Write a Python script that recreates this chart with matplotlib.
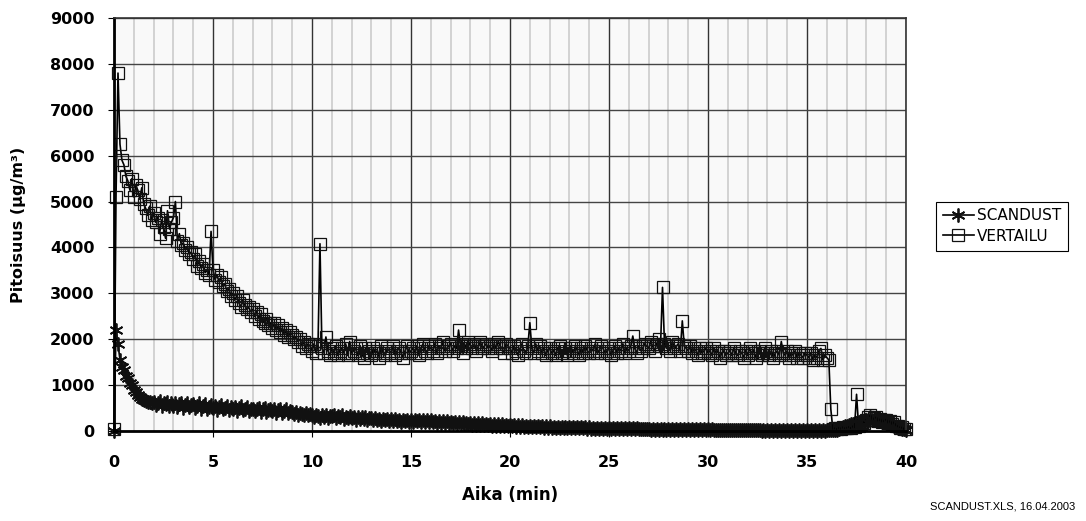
"""
Pitoisuus vs. aika: SCANDUST ja VERTAILU (Excel-tyylinen kuva).
"""
import numpy as np
import matplotlib
matplotlib.use('Agg')
import matplotlib.pyplot as plt
from matplotlib.ticker import MultipleLocator

plt.rcParams['font.family'] = ['Liberation Sans', 'DejaVu Sans']

# samples every 0.1 min, one row = one minute
step_min = 0.1

vertailu = [
    50, 5100, 7800, 6250, 5900, 5800, 5550, 5450, 5250, 5500,
    5100, 5350, 5250, 5050, 5300, 4950, 4850, 4700, 4900, 4600,
    4750, 4550, 4650, 4300, 4600, 4450, 4200, 4800, 4400, 4550,
    4650, 5000, 4150, 4300, 4050, 4100, 3950, 4000, 3850, 3900,
    3750, 3850, 3600, 3700, 3550, 3650, 3450, 3500, 3400, 4350,
    3500, 3300, 3400, 3250, 3350, 3150, 3200, 3050, 3100, 2950,
    3000, 2850, 2950, 2800, 2700, 2850, 2750, 2650, 2700, 2600,
    2650, 2500, 2600, 2450, 2550, 2400, 2350, 2450, 2300, 2350,
    2250, 2350, 2200, 2300, 2150, 2250, 2100, 2200, 2050, 2150,
    2100, 2000, 2050, 1950, 2000, 1850, 1950, 1800, 1900, 1850,
    1750, 1900, 1700, 1850, 4080, 1800, 1700, 2050, 1750, 1650,
    1800, 1700, 1850, 1650, 1750, 1800, 1700, 1900, 1650, 1950,
    1700, 1750, 1800, 1650, 1850, 1700, 1600, 1800, 1700, 1750,
    1650, 1800, 1700, 1750, 1600, 1850, 1700, 1650, 1800, 1750,
    1700, 1850, 1650, 1750, 1800, 1700, 1600, 1750, 1850, 1700,
    1750, 1800, 1700, 1850, 1650, 1800, 1900, 1750, 1700, 1850,
    1800, 1750, 1900, 1700, 1850, 1800, 1950, 1750, 1800, 1850,
    1900, 1750, 1850, 1800, 2200, 1850, 1700, 1900, 1800, 1950,
    1850, 1800, 1900, 1750, 1850, 1950, 1800, 1850, 1900, 1800,
    1850, 1750, 1900, 1800, 1950, 1850, 1800, 1700, 1900, 1850,
    1800, 1700, 1850, 1750, 1650, 1800, 1900, 1750, 1700, 1850,
    2360, 1800, 1700, 1900, 1750, 1850, 1700, 1800, 1650, 1750,
    1800, 1700, 1750, 1650, 1800, 1850, 1700, 1750, 1800, 1650,
    1750, 1800, 1700, 1850, 1750, 1650, 1800, 1700, 1850, 1750,
    1700, 1800, 1750, 1900, 1700, 1750, 1850, 1800, 1700, 1750,
    1800, 1650, 1750, 1850, 1700, 1800, 1750, 1900, 1700, 1800,
    1750, 1850, 2070, 1800, 1700, 1850, 1750, 1800, 1900, 1850,
    1800, 1950, 1850, 1750, 1900, 2000, 1850, 3130, 1900, 1800,
    1850, 1750, 1950, 1800, 1850, 1900, 1750, 2400, 1850, 1800,
    1750, 1850, 1700, 1800, 1750, 1650, 1800, 1700, 1750, 1800,
    1700, 1750, 1650, 1800, 1700, 1750, 1600, 1700, 1750, 1650,
    1700, 1750, 1650, 1800, 1700, 1650, 1750, 1700, 1600, 1750,
    1650, 1800, 1700, 1750, 1600, 1700, 1750, 1650, 1700, 1800,
    1700, 1650, 1750, 1600, 1700, 1750, 1650, 1950, 1700, 1650,
    1750, 1600, 1700, 1650, 1750, 1600, 1700, 1650, 1600, 1700,
    1650, 1600, 1700, 1550, 1650, 1600, 1750, 1800, 1550, 1650,
    1600, 1550, 480, 50, 60, 40, 70, 50, 80, 60,
    70, 90, 60, 100, 80, 800, 120, 150, 200, 180,
    250, 300, 350, 250, 280, 300, 220, 260, 200, 230,
    250, 180, 220, 150, 200, 120, 100, 60, 80, 40,
    50,
]

scandust = [
    0, 2200, 1900, 1550, 1400, 1330, 1200, 1150, 1050, 1000,
    900, 850, 780, 740, 700, 680, 660, 640, 630, 620,
    640, 560, 600, 660, 550, 610, 580, 640, 540, 600,
    550, 620, 520, 580, 600, 510, 570, 620, 520, 560,
    590, 500, 550, 600, 480, 540, 580, 490, 530, 570,
    500, 550, 460, 520, 560, 470, 510, 550, 460, 520,
    480, 530, 440, 500, 540, 450, 490, 530, 440, 480,
    490, 430, 470, 510, 420, 480, 500, 420, 460, 490,
    440, 480, 400, 450, 470, 400, 440, 470, 390, 430,
    420, 380, 410, 350, 400, 380, 340, 390, 350, 370,
    360, 310, 350, 330, 290, 350, 310, 340, 290, 330,
    320, 340, 280, 320, 300, 340, 270, 310, 290, 330,
    290, 310, 250, 300, 260, 300, 260, 300, 240, 280,
    280, 230, 280, 250, 270, 220, 270, 230, 270, 220,
    260, 210, 260, 220, 250, 200, 250, 210, 250, 205,
    245, 205, 245, 210, 240, 195, 235, 200, 235, 195,
    230, 190, 225, 185, 220, 180, 215, 175, 210, 170,
    205, 165, 200, 160, 195, 155, 190, 150, 185, 150,
    180, 140, 175, 135, 170, 135, 165, 130, 160, 125,
    160, 120, 155, 115, 150, 115, 145, 110, 140, 105,
    140, 100, 135, 95, 130, 95, 125, 90, 120, 85,
    115, 85, 115, 80, 110, 78, 105, 75, 102, 72,
    100, 70, 98, 68, 95, 66, 92, 64, 90, 62,
    88, 60, 86, 58, 84, 56, 82, 55, 80, 54,
    78, 52, 76, 50, 74, 49, 72, 47, 70, 46,
    68, 45, 66, 44, 64, 43, 62, 42, 60, 40,
    58, 38, 56, 37, 55, 36, 54, 35, 52, 34,
    51, 33, 50, 32, 48, 31, 47, 30, 46, 29,
    45, 28, 44, 27, 43, 26, 42, 25, 41, 24,
    40, 23, 39, 22, 38, 21, 37, 20, 36, 20,
    35, 19, 34, 18, 33, 18, 32, 17, 31, 16,
    30, 16, 29, 15, 28, 15, 27, 14, 26, 13,
    26, 13, 25, 12, 24, 12, 23, 11, 22, 11,
    22, 10, 21, 10, 20, 9, 19, 9, 19, 8,
    18, 8, 17, 7, 17, 7, 16, 6, 16, 6,
    15, 5, 14, 5, 14, 5, 13, 4, 13, 4,
    15, 13, 14, 12, 20, 30, 45, 60, 80, 100,
    120, 140, 160, 150, 180, 170, 200, 190, 220, 210,
    240, 220, 300, 250, 230, 260, 220, 240, 200, 210,
    190, 170, 150, 130, 110, 90, 70, 60, 50, 40,
    30,
]

series_names = ['SCANDUST', 'VERTAILU']
footer_text = 'SCANDUST.XLS, 16.04.2003'

aika = np.arange(len(vertailu)) * step_min

fig = plt.figure(figsize=(10.86, 5.21), dpi=100)
ax = fig.add_axes([0.105, 0.1727, 0.7293, 0.7928])
ax.set_facecolor('#f9f9f9')

# gridlines: light every minute, dark every 5 min and every 1000
ax.set_xlim(0, 40)
ax.set_ylim(0, 9000)
ax.xaxis.set_major_locator(MultipleLocator(5))
ax.xaxis.set_minor_locator(MultipleLocator(1))
ax.yaxis.set_major_locator(MultipleLocator(1000))
ax.grid(which='minor', axis='x', color='#d2d2d2', linewidth=1.4)
ax.grid(which='major', axis='x', color='#333333', linewidth=1.0)
ax.grid(which='major', axis='y', color='#444444', linewidth=1.0)
ax.set_axisbelow(True)

ax.plot(aika, scandust, color='black', linewidth=1.2,
        marker=(6, 2, 0), markersize=10, markeredgewidth=1.3,
        markeredgecolor='#111111', label=series_names[0], clip_on=False)
ax.plot(aika, vertailu, color='black', linewidth=1.2,
        marker='s', markersize=8.5, markerfacecolor='none',
        markeredgewidth=0.9, markeredgecolor='#111111',
        label=series_names[1], clip_on=False)

for side in ['left', 'bottom']:
    ax.spines[side].set_linewidth(2.0)
for side in ['top', 'right']:
    ax.spines[side].set_linewidth(1.2)
    ax.spines[side].set_color('#333333')

tick_font = {'family': 'DejaVu Sans', 'weight': 'bold', 'size': 11.5}
ax.tick_params(which='minor', length=0)
ax.tick_params(axis='x', which='major', length=4, width=0.8, pad=13)
ax.tick_params(axis='y', which='major', length=4, width=0.8, pad=10)
ax.set_xticks(ax.get_xticks())
ax.set_yticks(ax.get_yticks())
ax.set_xticklabels([f'{v:g}' for v in ax.get_xticks()], fontdict=tick_font)
ax.set_yticklabels([f'{v:g}' for v in ax.get_yticks()], fontdict=tick_font)
ax.set_xlim(0, 40)
ax.set_ylim(0, 9000)

ax.set_xlabel('Aika (min)', fontdict=tick_font, fontsize=12, labelpad=12)
ax.set_ylabel('Pitoisuus (µg/m³)', fontdict=tick_font, fontsize=11.5,
              labelpad=17)

leg = fig.legend(loc='center left', bbox_to_anchor=(0.862, 0.566),
                 prop={'family': 'DejaVu Sans', 'size': 11},
                 numpoints=1, handlelength=2.0, borderaxespad=0,
                 handletextpad=0.2, borderpad=0.45, labelspacing=0.35,
                 fancybox=False, framealpha=1.0)
leg.get_frame().set_edgecolor('black')
leg.get_frame().set_linewidth(0.8)

fig.text(0.99, 0.018, footer_text, ha='right', va='bottom', fontsize=8)

fig.savefig('out.png', dpi=100)
